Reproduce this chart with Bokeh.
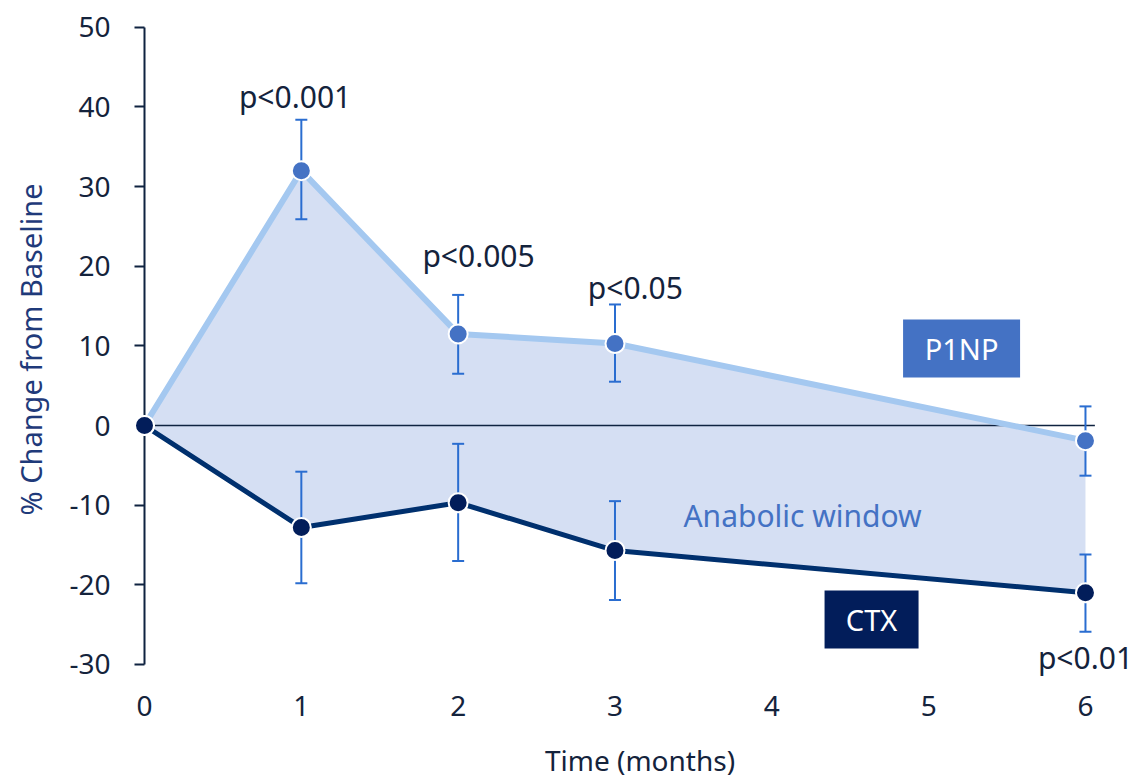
from bokeh.plotting import figure
from bokeh.models import Range1d, FixedTicker, ColumnDataSource
from bokeh.core.properties import value
from bokeh.embed import file_html
from bokeh.resources import INLINE

# ---- data ----
months = [0, 1, 2, 3, 6]
p1np = [0.0, 32.0, 11.5, 10.3, -1.9]
ctx = [0.0, -12.8, -9.7, -15.7, -21.0]

err_months = [1, 2, 3, 6]
p1np_lo = [25.9, 6.5, 5.5, -6.3]
p1np_hi = [38.4, 16.4, 15.2, 2.4]
ctx_lo = [-19.8, -17.0, -21.9, -25.9]
ctx_hi = [-5.8, -2.3, -9.5, -16.2]

pval_text = ["p<0.001", "p<0.005", "p<0.05", "p<0.01"]
pval_x = [0.96, 2.13, 3.13, 6.0]
pval_y = [41.3, 21.3, 17.3, -29.1]

x_ticks = [0, 1, 2, 3, 4, 5, 6]
y_ticks = [-30, -20, -10, 0, 10, 20, 30, 40, 50]
y_tick_labels = {t: str(t) for t in y_ticks}

FONT = "Noto Sans"
AXIS_C = "#0f2340"
TEXT_C = "#14233c"

p = figure(width=1135, height=781, output_backend="svg", toolbar_location=None,
           x_range=Range1d(0, 6.319), y_range=Range1d(-32.65, 51.74),
           min_border_left=144, min_border_right=0, min_border_top=13, min_border_bottom=96)
p.outline_line_color = None
p.xgrid.visible = False
p.ygrid.visible = False
p.background_fill_color = "white"

# anabolic window fill
p.varea(x=months, y1=p1np, y2=ctx, fill_color="#d5dff3")

# zero line
p.segment(x0=[0], y0=[0], x1=[6.06], y1=[0], line_color=AXIS_C, line_width=1.5)

# error bars
eb = dict(line_color="#2a6dd0", line_width=2)
p.segment(x0=err_months, y0=p1np_lo, x1=err_months, y1=p1np_hi, **eb)
p.segment(x0=err_months, y0=ctx_lo, x1=err_months, y1=ctx_hi, **eb)
for arr in (p1np_lo, p1np_hi, ctx_lo, ctx_hi):
    p.scatter(x=err_months, y=arr, marker="dash", size=12, line_color="#2a6dd0", line_width=2)

# lines
p.line(months, p1np, line_color="#a4c8f0", line_width=6)
p.line(months, ctx, line_color="#00306e", line_width=5)

# markers
p.scatter(months, p1np, size=19, fill_color="#4472c4", line_color="white", line_width=2, level="overlay")
p.scatter(months, ctx, size=19, fill_color="#021d5a", line_color="white", line_width=2, level="overlay")

# p-values
src = ColumnDataSource(dict(x=pval_x, y=pval_y, t=pval_text))
p.text(x="x", y="y", text="t", source=src, text_align="center", text_baseline="middle",
       text_font=value(FONT), text_font_size="30px", text_color=TEXT_C, level="overlay")

# labels / boxes
p.rect(x=[5.21], y=[9.67], width=117, height=58, width_units="screen", height_units="screen",
       fill_color="#4472c4", line_color=None)
p.text(x=[5.21], y=[9.67], text=["P1NP"], text_align="center", text_baseline="middle",
       text_font=value(FONT), text_font_size="29px", text_color="white")
p.rect(x=[4.636], y=[-24.36], width=94, height=58, width_units="screen", height_units="screen",
       fill_color="#021d5a", line_color=None)
p.text(x=[4.636], y=[-24.36], text=["CTX"], text_align="center", text_baseline="middle",
       text_font=value(FONT), text_font_size="29px", text_color="white")
p.text(x=[4.196], y=[-11.3], text=["Anabolic window"], text_align="center", text_baseline="middle",
       text_font=value(FONT), text_font_size="30px", text_color="#4472c4")

# y axis
ya = p.yaxis[0]
ya.ticker = FixedTicker(ticks=y_ticks)
ya.major_label_overrides = y_tick_labels
ya.bounds = (-30, 50)
ya.axis_line_color = AXIS_C
ya.axis_line_width = 2
ya.major_tick_line_color = AXIS_C
ya.major_tick_line_width = 2
ya.major_tick_out = 10
ya.major_tick_in = 0
ya.minor_tick_line_color = None
ya.major_label_text_font = FONT
ya.major_label_text_font_size = "28px"
ya.major_label_text_color = TEXT_C
ya.major_label_standoff = 24
ya.axis_label = "% Change from Baseline"
ya.axis_label_text_font = FONT
ya.axis_label_text_font_size = "29px"
ya.axis_label_text_font_style = "normal"
ya.axis_label_text_color = "#1f3a7a"
ya.axis_label_standoff = 16

# x axis
xa = p.xaxis[0]
xa.ticker = FixedTicker(ticks=x_ticks)
xa.axis_line_color = None
xa.major_tick_line_color = None
xa.minor_tick_line_color = None
xa.major_label_text_font = FONT
xa.major_label_text_font_size = "28px"
xa.major_label_text_color = TEXT_C
xa.major_label_standoff = 4
xa.axis_label = "Time (months)"
xa.axis_label_text_font = FONT
xa.axis_label_text_font_size = "28px"
xa.axis_label_text_font_style = "normal"
xa.axis_label_text_color = TEXT_C
xa.axis_label_standoff = 22

open("out.html", "w").write(file_html(p, INLINE))
